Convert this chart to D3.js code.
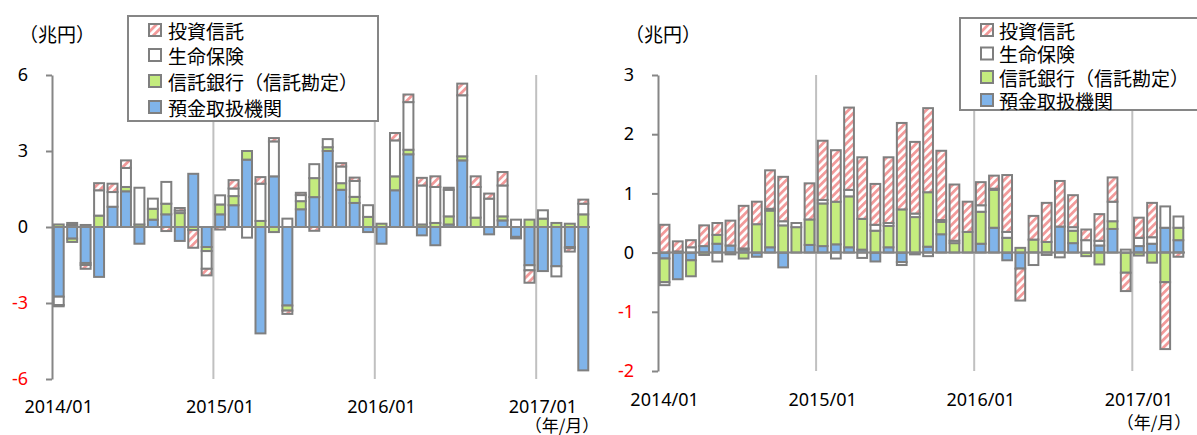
<!DOCTYPE html>
<html>
<head>
<meta charset="utf-8">
<script src="https://cdn.jsdelivr.net/npm/d3@7"></script>
<style>
  body { margin: 0; background: #fff; }
  .num { font-family: "Noto Sans", "Open Sans", sans-serif; font-size: 18px; }
  .jp { font-family: "Noto Sans CJK JP", sans-serif; font-size: 19px; }
  .jps { font-family: "Noto Sans CJK JP", sans-serif; font-size: 17px; }
</style>
</head>
<body>
<div id="chart"></div>
<script>
// categories: 2014/01 .. 2017/04
const months = d3.range(40).map(i => `${2014 + Math.floor(i / 12)}/${String(i % 12 + 1).padStart(2, "0")}`);
const xTickLabels = ["2014/01", "2015/01", "2016/01", "2017/01"];
const seriesKeys = ["bank", "trust", "life", "invest"];
const seriesNames = {bank: "預金取扱機関", trust: "信託銀行（信託勘定）", life: "生命保険", invest: "投資信託"};

// left panel (兆円)
const leftTicks = [-6, -3, 0, 3, 6];
const leftBank = [-2.75, -0.46, -1.42, -1.97, 0.8, 1.41, -0.66, 0.29, 0.5, -0.55,
  2.1, -0.79, 0.5, 0.86, 2.66, -4.2, 2.0, -3.1, 0.7, 1.18,
  3.0, 1.47, 0.95, -0.2, -0.66, 1.45, 2.87, -0.33, -0.72, 0.1,
  2.63, 0, -0.29, 0.26, -0.39, -1.51, -1.74, -1.55, -0.79, -5.66];
const leftTrust = [0.1, -0.13, -0.08, 0.45, 0, 0.17, 0.1, 0.43, 0.42, 0.55,
  -0.12, -0.16, 0.39, 0.36, 0.34, 0.24, -0.2, -0.2, 0.32, 0.75,
  0.15, 0.26, 0.24, 0.4, 0.13, 0.55, 0.18, 0.1, 0.16, 0.32,
  0.16, 0.37, 0, 0.16, -0.06, 0.29, 0.33, 0.16, 0.13, 0.5];
const leftLife = [-0.33, 0.08, 0.08, 1.0, 0.58, 0.75, 1.45, 0.4, 0.86, 0.1,
  0, -0.7, 0.36, 0.3, -0.42, 1.47, 1.38, 0.33, 0.24, 0.55,
  0.32, 0.66, 0.63, 0.46, 0, 1.42, 1.88, 1.54, 1.42, 1.05,
  2.41, 1.21, 1.12, 1.22, 0.29, -0.2, 0.33, -0.4, -0.05, 0.42];
const leftInvest = [-0.05, 0.08, -0.15, 0.28, 0.33, 0.3, 0, 0, -0.16, 0.1,
  -0.7, -0.26, -0.1, 0.33, 0, 0.26, 0.13, -0.13, 0.09, -0.15,
  0, 0.13, 0.13, 0, 0, 0.29, 0.3, 0.3, 0.42, 0.08,
  0.46, 0.42, 0.2, 0.53, 0, -0.49, 0, 0, -0.13, 0.16];

// right panel (兆円)
const rightTicks = [-2, -1, 0, 1, 2, 3];
const rightBank = [-0.1, -0.45, -0.13, 0.11, 0.15, 0.12, 0.05, -0.07, 0.09, -0.25,
  0, 0.13, 0.11, 0.14, 0.09, 0.05, -0.15, 0.09, -0.16, -0.03,
  0.1, 0.31, 0, 0, 0.15, 0.42, -0.13, -0.27, 0, 0,
  0.44, 0.16, 0, 0.12, 0.4, 0, 0.11, 0.15, 0.42, 0.21];
const rightTrust = [-0.4, 0, -0.27, -0.04, 0.15, 0, -0.1, 0.48, 0.62, 0.46,
  0.43, 0.43, 0.72, 0.72, 0.86, 0.52, 0.37, 0.36, 0.73, 0.6,
  0.92, 0.21, 0.16, 0.35, 0.54, 0.64, 0.25, 0.08, 0.22, 0.18,
  0, 0.21, -0.06, -0.2, 0.13, -0.34, -0.05, -0.17, -0.5, 0.21];
const rightLife = [-0.05, 0.02, 0.09, 0, -0.15, -0.03, 0.02, 0, 0.03, 0.07,
  0.07, 0, 0.06, -0.1, 0.11, -0.09, 0.1, 0.05, -0.05, 0.06,
  -0.06, 0.03, 0.04, 0, 0.11, 0.02, 0.1, 0, -0.21, -0.04,
  -0.08, 0.06, 0.21, 0.08, 0.33, 0.05, 0.14, 0.11, 0.36, 0.19];
const rightInvest = [0.47, 0.17, 0.12, 0.35, 0.2, 0.42, 0.72, 0.38, 0.65, 0.75,
  0, 0.61, 1.0, 0.87, 1.39, 1.04, 0.69, 1.11, 1.46, 1.21,
  1.42, 1.17, 0.95, 0.51, 0.39, 0.22, 0.96, -0.54, 0.4, 0.66,
  0.77, 0.54, 0.18, 0.45, 0.41, -0.31, 0.34, 0.58, -1.13, -0.07];

const svg = d3.select("#chart").append("svg")
    .attr("width", 1197)
    .attr("height", 435);

// hatch for 投資信託
svg.append("defs").append("pattern")
    .attr("id", "hatch")
    .attr("patternUnits", "userSpaceOnUse")
    .attr("width", 5.5).attr("height", 5.5)
    .attr("patternTransform", "rotate(45)")
    .call(p => p.append("rect").attr("width", 5.5).attr("height", 5.5).attr("fill", "#fff"))
    .call(p => p.append("rect").attr("width", 2.8).attr("height", 5.5).attr("fill", "#f29a9a"));

const fills = {bank: "#80b4ea", trust: "#c4ec7e", life: "#ffffff", invest: "url(#hatch)"};
const edge = "#7f7f7f";

function drawPanel(p) {
    const g = svg.append("g");

    const x = d3.scaleBand()
        .domain(months)
        .range([p.left, p.right])
        .paddingInner(0.26)
        .paddingOuter(0.13);
    const y = d3.scaleLinear()
        .domain([p.ticks[0], p.ticks[p.ticks.length - 1]])
        .range([p.bottom, p.top]);
    const boundary = m => x(m) - x.step() * x.paddingInner() / 2;

    // year gridlines (between categories)
    g.selectAll(".grid")
        .data(xTickLabels.slice(1))
        .join("line")
        .attr("x1", boundary).attr("x2", boundary)
        .attr("y1", p.top).attr("y2", p.bottom)
        .attr("stroke", "#c0c0c0")
        .attr("stroke-width", 2);

    const rows = months.map((m, i) => ({
        month: m, bank: p.bank[i], trust: p.trust[i], life: p.life[i], invest: p.invest[i]
    }));
    const stacked = d3.stack().keys(seriesKeys).offset(d3.stackOffsetDiverging)(rows);

    g.selectAll(".series")
        .data(stacked)
        .join("g")
        .attr("fill", d => fills[d.key])
        .selectAll("rect")
        .data(d => d.filter(v => v[1] !== v[0]))
        .join("rect")
        .attr("x", d => x(d.data.month))
        .attr("y", d => y(Math.max(d[0], d[1])))
        .attr("width", x.bandwidth())
        .attr("height", d => Math.abs(y(d[0]) - y(d[1])))
        .attr("stroke", edge)
        .attr("stroke-width", 2);

    // zero line
    g.append("line")
        .attr("x1", p.left).attr("x2", p.right)
        .attr("y1", y(0)).attr("y2", y(0))
        .attr("stroke", "#868686")
        .attr("stroke-width", 2);

    // y axis
    const yAxis = g.append("g")
        .attr("transform", `translate(${p.left},0)`)
        .call(d3.axisLeft(y).tickValues(p.ticks).tickSize(6).tickSizeOuter(0).tickPadding(18)
            .tickFormat(d => String(d)));
    yAxis.select(".domain").attr("stroke", "#868686").attr("stroke-width", 2);
    yAxis.selectAll(".tick line").attr("stroke", "#868686").attr("stroke-width", 2);
    yAxis.selectAll(".tick text")
        .attr("class", "num")
        .attr("font-size", null).attr("font-family", null)
        .attr("fill", d => d < 0 ? "#ff0000" : "#000");

    // x labels
    g.selectAll(".xlab")
        .data(xTickLabels)
        .join("text")
        .attr("class", "num")
        .attr("x", d => x(d) + x.bandwidth() / 2)
        .attr("y", p.labelY)
        .attr("text-anchor", "middle")
        .attr("dominant-baseline", "central")
        .text(d => d);

    g.append("text").attr("class", "jp")
        .attr("x", p.unitX).attr("y", 33)
        .attr("text-anchor", "middle").attr("dominant-baseline", "central")
        .text("（兆円）");
    g.append("text").attr("class", "jps")
        .attr("x", p.ymX).attr("y", p.ymY)
        .attr("text-anchor", "middle").attr("dominant-baseline", "central")
        .text("（年/月）");

    // legend
    const lg = g.append("g");
    lg.append("rect")
        .attr("x", p.legend.x).attr("y", p.legend.y)
        .attr("width", p.legend.w).attr("height", p.legend.h)
        .attr("fill", "#fff").attr("stroke", "#868686").attr("stroke-width", 2);
    const items = seriesKeys.slice().reverse();
    const item = lg.selectAll(".item")
        .data(items)
        .join("g")
        .attr("transform", (d, i) => `translate(${p.legend.sx},${p.legend.rows[i]})`);
    item.append("rect")
        .attr("x", 0).attr("y", -6)
        .attr("width", 12).attr("height", 12)
        .attr("fill", d => fills[d])
        .attr("stroke", edge).attr("stroke-width", 2);
    item.append("text").attr("class", "jp")
        .attr("x", p.legend.tx).attr("y", 0)
        .attr("font-size", p.legend.fs)
        .attr("dominant-baseline", "central")
        .text(d => seriesNames[d]);
}

drawPanel({
    left: 52, right: 590, top: 75, bottom: 379,
    ticks: leftTicks,
    bank: leftBank, trust: leftTrust, life: leftLife, invest: leftInvest,
    labelY: 406, unitX: 57, ymX: 562, ymY: 424,
    legend: {x: 128, y: 16, w: 250, h: 105, sx: 149, tx: 19, fs: 19, rows: [30, 55, 81, 107]}
});

drawPanel({
    left: 658, right: 1185, top: 75, bottom: 371,
    ticks: rightTicks,
    bank: rightBank, trust: rightTrust, life: rightLife, invest: rightInvest,
    labelY: 399, unitX: 663, ymX: 1154, ymY: 421,
    legend: {x: 960, y: 18, w: 250, h: 92, sx: 981, tx: 18, fs: 18, rows: [30, 53.5, 77, 100]}
});
</script>
</body>
</html>
